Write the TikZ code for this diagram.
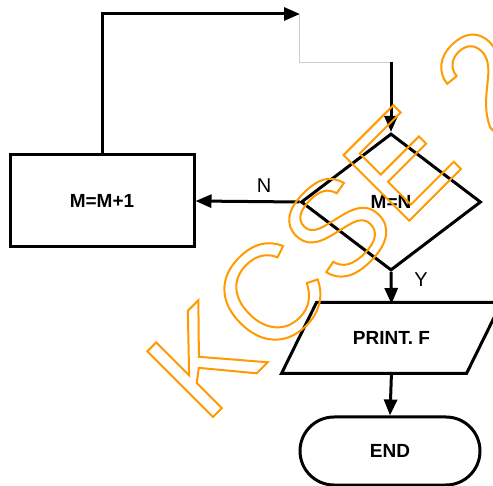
\documentclass[tikz,border=0pt]{standalone}
\usepackage{fontspec}
\setmainfont{Liberation Sans}
\usetikzlibrary{shapes.geometric,arrows.meta}
\definecolor{wm}{RGB}{255,155,0}
\definecolor{faint}{RGB}{205,205,205}
\begin{document}
\begin{tikzpicture}[x=1pt,y=-1pt,
  box/.style={draw, line width=3pt, inner sep=0pt, font=\fontsize{19}{22}\selectfont\bfseries},
  arr/.style={line width=3pt, -{Triangle[length=16pt,width=13pt]}},
  lab/.style={font=\fontsize{20}{24}\selectfont, inner sep=0pt}]
\useasboundingbox (0,0) rectangle (493,486);
\clip (0,0) rectangle (493,486);
% nodes
\node[box, minimum width=184pt, minimum height=92pt] (inc) at (102,201) {M=M+1};
\node[box, diamond, minimum width=180pt, minimum height=137pt] (dec) at (391,202) {M=N};
\node[box, draw=none, minimum width=182pt, minimum height=68pt] (prt) at (391.5,338) {PRINT. F};
\draw[line width=3pt, line join=miter]
  ([xshift=17.5pt]prt.north west) -- ([xshift=17.5pt]prt.north east)
  -- ([xshift=-17.5pt]prt.south east) -- ([xshift=-17.5pt]prt.south west) -- cycle;
\node[box, rounded corners=34pt, minimum width=180pt, minimum height=68pt] (end) at (390,451) {END};
\node[lab] (nlab) at (264,186) {N};
\node[lab] (ylab) at (421,280) {Y};
% coordinates
\coordinate (tr) at (300,14);
\coordinate (g0) at (299,14);
\coordinate (g1) at (299,62);
\coordinate (g2) at (391,62);
% connectors
\draw[faint, line width=0.8pt] (g0) -- (g1) -- (g2);
\draw[arr] (inc.north) |- (tr);
\draw[arr] (g2) -- (dec.north);
\draw[arr] (dec.west) -- (inc.east);
\draw[arr] (dec.south) -- ([yshift=-1.5pt]prt.north);
\draw[arr] ([yshift=1.5pt]prt.south) -- (end.north);
% watermark
\node[text=wm, font=\fontsize{135}{140}\selectfont, rotate=45, anchor=base west, inner sep=0pt]
  (wmark) at (205,425) {\special{pdf:literal direct 1 Tr 2 w}KCSE 2\special{pdf:literal direct 0 Tr}};
\end{tikzpicture}
\end{document}
